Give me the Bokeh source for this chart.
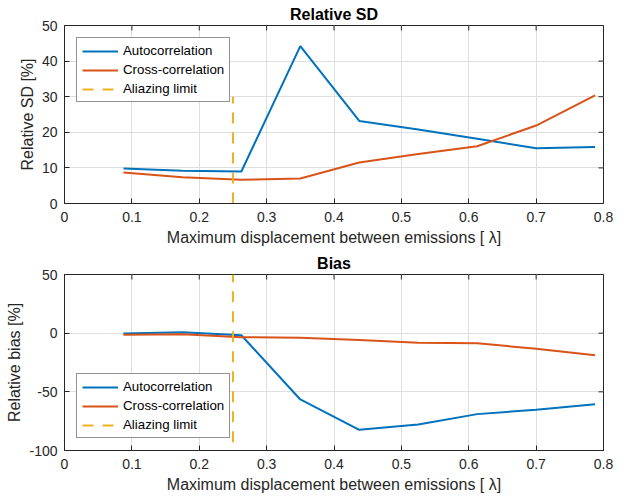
from math import pi
from bokeh.plotting import figure
from bokeh.layouts import column
from bokeh.models import FixedTicker, Range1d
from bokeh.embed import file_html
from bokeh.resources import INLINE

x = [0.0875, 0.175, 0.2625, 0.35, 0.4375, 0.525, 0.6125, 0.7, 0.7875]
sd_auto = [9.8, 9.2, 9.0, 44.2, 23.2, 20.8, 18.2, 15.5, 15.9]
sd_cross = [8.7, 7.4, 6.7, 7.0, 11.5, 13.9, 16.1, 21.9, 30.4]
bias_auto = [-0.3, 0.8, -1.8, -56.5, -82.4, -77.8, -69.0, -65.3, -60.6]
bias_cross = [-1.3, -1.0, -3.4, -4.0, -5.8, -8.2, -8.6, -13.3, -18.8]
alias_x = [0.25, 0.25]
alias_sd_y = [0, 30]
alias_bias_y = [-93, 50]

x_ticks = [0, 0.1, 0.2, 0.3, 0.4, 0.5, 0.6, 0.7, 0.8]
x_tick_labels = ["0", "0.1", "0.2", "0.3", "0.4", "0.5", "0.6", "0.7", "0.8"]
sd_ticks = [0, 10, 20, 30, 40, 50]
sd_tick_labels = ["0", "10", "20", "30", "40", "50"]
bias_ticks = [-100, -50, 0, 50]
bias_tick_labels = ["-100", "-50", "0", "50"]

series_names = ["Autocorrelation", "Cross-correlation", "Aliazing limit"]
xlabel = "Maximum displacement between emissions [ \u03bb]"

C_AUTO = "#0072BD"
C_CROSS = "#D95319"
C_ALIAS = "#EDB120"
AX = "#262626"
FONT = "Liberation Sans"


def style_axis(ax, ticks, labels):
    ax.ticker = FixedTicker(ticks=ticks)
    ax.major_label_overrides = {t: l for t, l in zip(ticks, labels)}
    ax.axis_line_color = AX
    ax.axis_line_width = 1
    ax.major_tick_line_color = AX
    ax.major_tick_in = 5
    ax.major_tick_out = 0
    ax.minor_tick_line_color = None
    ax.major_label_text_font = FONT
    ax.major_label_text_color = AX
    ax.major_label_text_font_size = "14px"
    ax.axis_label_text_font = FONT
    ax.axis_label_text_font_size = "16px"
    ax.axis_label_text_font_style = "normal"
    ax.axis_label_text_color = AX


def make(title, ylabel, yr, yticks, ylabels, auto, cross, alias_y, loc, fh, top, bottom,
         title_standoff):
    xr = Range1d(0, 0.8)
    yrng = Range1d(*yr)
    p = figure(frame_width=539, frame_height=fh,
               x_range=xr, y_range=yrng,
               output_backend="svg", toolbar_location=None,
               min_border_left=64, min_border_right=21,
               min_border_top=top, min_border_bottom=bottom,
               background_fill_color="white", border_fill_color="white")
    p.outline_line_color = AX
    p.title.text = title
    p.title.align = "center"
    p.title.text_font = FONT
    p.title.text_font_size = "16px"
    p.title.text_font_style = "bold"
    p.title.text_color = "#000000"
    p.title.standoff = title_standoff

    xa = p.xaxis[0]
    style_axis(xa, x_ticks, x_tick_labels)
    xa.major_label_standoff = 8
    xa.axis_label = xlabel
    xa.axis_label_standoff = 4

    ya = p.yaxis[0]
    style_axis(ya, yticks, ylabels)
    ya.major_label_standoff = 7
    ya.axis_label = ylabel
    ya.axis_label_standoff = 3

    p.xgrid.ticker = FixedTicker(ticks=x_ticks)
    p.ygrid.ticker = FixedTicker(ticks=yticks)
    for g in (p.xgrid[0], p.ygrid[0]):
        g.grid_line_color = "#dfdfdf"
        g.grid_line_width = 1

    # box ticks on the right and top edges (half of each dash is clipped by the frame)
    p.scatter([xr.end] * len(yticks), yticks, marker="dash",
              size=10, line_color=AX, line_width=1)
    p.scatter(x_ticks, [yrng.end] * len(x_ticks), marker="dash", angle=pi / 2,
              size=10, line_color=AX, line_width=1)

    p.line(x, auto, color=C_AUTO, line_width=2, legend_label=series_names[0])
    p.line(x, cross, color=C_CROSS, line_width=2, legend_label=series_names[1])
    p.line(alias_x, alias_y, color=C_ALIAS, line_width=2, line_dash="11 9",
           legend_label=series_names[2])

    lg = p.legend[0]
    lg.location = loc
    lg.margin = 12
    lg.padding = 5
    lg.spacing = 4
    lg.label_height = 14
    lg.glyph_height = 14
    lg.glyph_width = 36
    lg.label_standoff = 5
    lg.label_text_font = FONT
    lg.label_text_font_size = "13.3px"
    lg.label_text_color = "#000000"
    lg.border_line_color = AX
    lg.border_line_width = 1
    lg.background_fill_color = "white"
    lg.background_fill_alpha = 1
    return p


p1 = make("Relative SD", "Relative SD [%]", (0, 50), sd_ticks, sd_tick_labels,
          sd_auto, sd_cross, alias_sd_y, "top_left", 178, 25, 47, 6)
p2 = make("Bias", "Relative bias [%]", (-100, 50), bias_ticks, bias_tick_labels,
          bias_auto, bias_cross, alias_bias_y, "bottom_left", 176, 24, 49, 5)

layout = column(p1, p2, spacing=0)
open("out.html", "w").write(file_html(layout, INLINE))
